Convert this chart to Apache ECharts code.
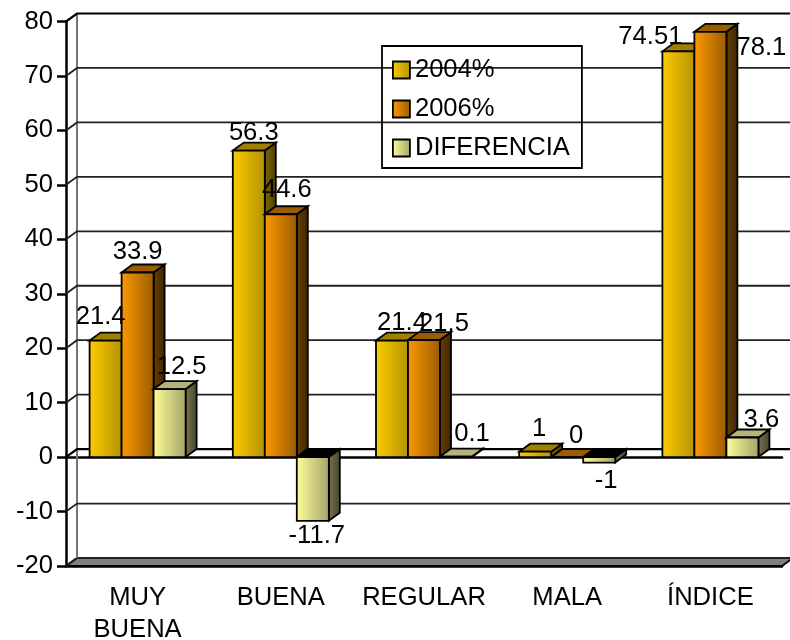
<!DOCTYPE html>
<html>
<head>
<meta charset="utf-8">
<style>
    html, body { margin: 0; padding: 0; background: #fff; }
    #main { width: 790px; height: 640px; }
</style>
<script src="https://cdn.jsdelivr.net/npm/echarts@6/dist/echarts.min.js"></script>
</head>
<body>
<div id="main"></div>
<script>
var categories = ['MUY\nBUENA', 'BUENA', 'REGULAR', 'MALA', 'ÍNDICE'];
var values2004 = [21.4, 56.3, 21.4, 1, 74.51];
var values2006 = [33.9, 44.6, 21.5, 0, 78.1];
var valuesDiff = [12.5, -11.7, 0.1, -1, 3.6];
var yTicks = [-20, -10, 0, 10, 20, 30, 40, 50, 60, 70, 80];

// label offset from the top middle of each bar, the original placed them by hand
var nudge2004 = [[-5, -24], [5, -18], [10, -18], [4, -23], [-28, -14]];
var nudge2006 = [[0, -21], [6, -24], [20, -16], [9, -21], [51, 16]];
var nudgeDiff = [[12, -22], [4, 15], [16, -23], [7, 18], [19, -18]];

var depthX = 11;
var depthY = -8;
var fontSize = 25.6;
var font = fontSize + 'px "Liberation Sans", Arial, sans-serif';

function grad(c1, c2) {
    return new echarts.graphic.LinearGradient(0, 0, 1, 0, [
        { offset: 0, color: c1 },
        { offset: 1, color: c2 }
    ]);
}

var looks = [
    { name: '2004%', front: ['#FFCC00', '#B39200'], top: '#A08000', side: ['#806600', '#4d3d00'] },
    { name: '2006%', front: ['#FF9900', '#995C00'], top: '#995C00', side: ['#6b4000', '#3d2500'] },
    { name: 'DIFERENCIA', front: ['#FFFF99', '#A3A36B'], top: '#B3B37A', side: ['#77774f', '#44442d'] }
];

function barRect(api, slot, value) {
    var p = api.coord([api.value(0), value]);
    var w = api.size([1, 0])[0] * 0.2235;
    return { x0: p[0] + (slot - 1.5) * w, x1: p[0] + (slot - 0.5) * w, y: p[1] };
}

function drawBar(slot) {
    return function (params, api) {
        var v = api.value(1);
        var r = barRect(api, slot, v);
        var y0 = api.coord([api.value(0), 0])[1];
        var yTop = Math.min(r.y, y0);
        var yBot = Math.max(r.y, y0);
        var look = looks[slot];
        var line = { stroke: '#000', lineWidth: 1.8 };
        return {
            type: 'group',
            children: [
                {
                    type: 'polygon',
                    shape: { points: [[r.x1, yTop], [r.x1 + depthX, yTop + depthY], [r.x1 + depthX, yBot + depthY], [r.x1, yBot]] },
                    style: { fill: grad(look.side[0], look.side[1]), stroke: line.stroke, lineWidth: line.lineWidth }
                },
                {
                    type: 'polygon',
                    shape: { points: [[r.x0, yTop], [r.x0 + depthX, yTop + depthY], [r.x1 + depthX, yTop + depthY], [r.x1, yTop]] },
                    style: { fill: v < 0 ? '#000' : look.top, stroke: line.stroke, lineWidth: line.lineWidth }
                },
                {
                    type: 'rect',
                    shape: { x: r.x0, y: yTop, width: r.x1 - r.x0, height: yBot - yTop },
                    style: { fill: grad(look.front[0], look.front[1]), stroke: line.stroke, lineWidth: line.lineWidth }
                }
            ]
        };
    };
}

function drawLabels(slot, nudge) {
    return function (params, api) {
        var v = api.value(1);
        var r = barRect(api, slot, v);
        var n = nudge[params.dataIndex];
        return {
            type: 'text',
            style: {
                text: String(v),
                x: (r.x0 + r.x1) / 2 + n[0],
                y: r.y + n[1],
                align: 'center',
                verticalAlign: 'middle',
                font: font,
                fill: '#000'
            }
        };
    };
}

// back wall lines, side wall diagonals and the grey floor
function drawWall(params, api) {
    var v = api.value(0);
    var a = api.coord([0, v]);
    var left = a[0] - api.size([1, 0])[0] / 2;
    var right = left + api.size([1, 0])[0] * categories.length;
    var y = a[1];
    var strong = v === 0 || v === 80;
    var children = [{
        type: 'polyline',
        shape: { points: [[left, y], [left + depthX, y + depthY], [right + depthX, y + depthY]] },
        style: { fill: 'none', stroke: strong ? '#000' : '#222', lineWidth: strong ? 2.2 : 1.8 }
    }];
    if (v === -20) {
        children.unshift({
            type: 'polygon',
            shape: { points: [[left, y], [left + depthX, y + depthY], [right + depthX, y + depthY], [right, y]] },
            style: { fill: '#808080', stroke: '#000', lineWidth: 1.8 }
        });
        var topY = api.coord([0, 80])[1];
        children.push({
            type: 'line',
            shape: { x1: left + depthX, y1: y + depthY, x2: left + depthX, y2: topY + depthY },
            style: { stroke: '#777', lineWidth: 2 }
        });
    }
    return { type: 'group', children: children };
}

function toPoints(list) {
    return list.map(function (v, i) { return [i, v]; });
}

var myChart = echarts.init(document.getElementById('main'));

var option = {
    animation: false,
    backgroundColor: '#fff',
    grid: { left: 66, right: 8, top: 21.5, bottom: 74, outerBoundsMode: 'none' },
    legend: {
        left: 382,
        top: 46,
        orient: 'vertical',
        padding: [11, 12, 7, 10],
        itemWidth: 17,
        itemHeight: 17,
        itemGap: 13,
        backgroundColor: 'transparent',
        borderColor: '#000',
        borderWidth: 1.8,
        borderRadius: 0,
        textStyle: { fontFamily: 'Liberation Sans', fontSize: fontSize, color: '#000' },
        data: looks.map(function (l) {
            return {
                name: l.name,
                icon: 'rect',
                itemStyle: { color: grad(l.front[0], l.front[1]), borderColor: '#000', borderWidth: 1.8 }
            };
        })
    },
    xAxis: [
        {
            type: 'category',
            data: categories,
            position: 'bottom',
            axisLine: { onZero: true, lineStyle: { color: '#000', width: 2.5 } },
            axisTick: { length: 9, lineStyle: { color: '#000', width: 2.5 } },
            axisLabel: { show: false },
            splitLine: { show: false }
        },
        {
            type: 'category',
            data: categories,
            position: 'bottom',
            axisLine: { onZero: false, lineStyle: { color: '#000', width: 2.5 } },
            axisTick: { length: 10, lineStyle: { color: '#000', width: 2.5 } },
            axisLabel: {
                interval: 0,
                margin: 16,
                fontFamily: 'Liberation Sans',
                fontSize: fontSize,
                lineHeight: 32,
                color: '#000'
            },
            splitLine: { show: false }
        }
    ],
    yAxis: {
        type: 'value',
        min: -20,
        max: 80,
        interval: 10,
        axisLine: { show: true, lineStyle: { color: '#000', width: 2.5 } },
        axisTick: { show: true, length: 9, lineStyle: { color: '#000', width: 2.5 } },
        axisLabel: { margin: 13, fontFamily: 'Liberation Sans', fontSize: fontSize, color: '#000' },
        splitLine: { show: false }
    },
    series: [
        { type: 'custom', name: 'wall', z: 1, silent: true, renderItem: drawWall, data: yTicks.map(function (v) { return [v]; }), encode: { y: 0 } },
        { type: 'custom', name: looks[0].name, z: 3, renderItem: drawBar(0), data: toPoints(values2004), encode: { x: 0, y: 1 } },
        { type: 'custom', name: looks[1].name, z: 4, renderItem: drawBar(1), data: toPoints(values2006), encode: { x: 0, y: 1 } },
        { type: 'custom', name: looks[2].name, z: 5, renderItem: drawBar(2), data: toPoints(valuesDiff), encode: { x: 0, y: 1 } },
        { type: 'custom', name: 'labels2004', z: 6, silent: true, renderItem: drawLabels(0, nudge2004), data: toPoints(values2004), encode: { x: 0, y: 1 } },
        { type: 'custom', name: 'labels2006', z: 6, silent: true, renderItem: drawLabels(1, nudge2006), data: toPoints(values2006), encode: { x: 0, y: 1 } },
        { type: 'custom', name: 'labelsDiff', z: 6, silent: true, renderItem: drawLabels(2, nudgeDiff), data: toPoints(valuesDiff), encode: { x: 0, y: 1 } }
    ]
};
myChart.setOption(option);
</script>
</body>
</html>
